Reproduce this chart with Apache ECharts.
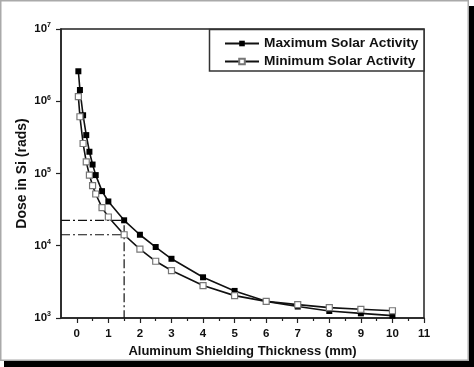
<!DOCTYPE html>
<html>
<head>
<meta charset="utf-8">
<script src="https://cdn.jsdelivr.net/npm/echarts@6/dist/echarts.min.js"></script>
<style>
html,body{margin:0;padding:0;background:#fff;}
#c{width:474px;height:367px;}
</style>
</head>
<body>
<div id="c"></div>
<script>
// Data
const thickness = [0.05, 0.1, 0.2, 0.3, 0.4, 0.5, 0.6, 0.8, 1, 1.5, 2, 2.5, 3, 4, 5, 6, 7, 8, 9, 10];
const maxDose = [2.6e6, 1.43e6, 6.4e5, 3.4e5, 2.0e5, 1.33e5, 9.5e4, 5.7e4, 4.1e4, 2.25e4, 1.42e4, 9.6e3, 6.6e3, 3.66e3, 2.37e3, 1.70e3, 1.44e3, 1.25e3, 1.16e3, 1.08e3];
const minDose = [1.16e6, 6.1e5, 2.6e5, 1.45e5, 9.5e4, 6.8e4, 5.2e4, 3.37e4, 2.5e4, 1.42e4, 8.98e3, 6.1e3, 4.54e3, 2.81e3, 2.04e3, 1.70e3, 1.53e3, 1.39e3, 1.32e3, 1.26e3];
const seriesNames = ['Maximum Solar Activity', 'Minimum Solar Activity'];
const xTicks = [0, 1, 2, 3, 4, 5, 6, 7, 8, 9, 10, 11];
const xMinorTicks = [0.5, 1.5, 2.5, 3.5, 4.5, 5.5, 6.5, 7.5, 8.5, 9.5, 10.5];
const xRange = [-0.5, 11];
const yRange = [1e3, 1e7];
const guideX = 1.5;
const guideMax = 2.25e4;
const guideMin = 1.42e4;

const FONT = '"Liberation Sans", Arial, sans-serif';
const AX = '#222';

const chart = echarts.init(document.getElementById('c'), null, {renderer: 'canvas'});
const dashDot = [9, 3, 2, 3];

chart.setOption({
  animation: false,
  backgroundColor: '#fff',
  textStyle: {fontFamily: FONT},
  graphic: [
    {type: 'rect', z: 0, shape: {x: 0.75, y: 0.75, width: 467.5, height: 359.5}, style: {fill: 'none', stroke: '#aaa', lineWidth: 1.5}},
    {type: 'rect', z: 0, shape: {x: 469, y: 6, width: 5, height: 361}, style: {fill: '#000'}},
    {type: 'rect', z: 0, shape: {x: 4, y: 361, width: 470, height: 6}, style: {fill: '#000'}},
    {type: 'rect', z: 3, shape: {x: 209.5, y: 29.5, width: 214.5, height: 41.5}, style: {fill: '#fff', stroke: '#333', lineWidth: 1.5}}
  ],
  grid: {left: 61, right: 50, top: 29, bottom: 49, show: true, z: 2, borderColor: AX, borderWidth: 1.5, backgroundColor: 'transparent'},
  legend: {
    z: 5,
    orient: 'vertical',
    left: 224, top: 36,
    padding: 0,
    itemWidth: 34, itemHeight: 7,
    itemGap: 3,
    data: seriesNames,
    textStyle: {fontFamily: FONT, fontSize: 13.7, fontWeight: 'bold', color: '#111', lineHeight: 15}
  },
  xAxis: [{
    type: 'value', min: xRange[0], max: xRange[1],
    name: 'Aluminum Shielding Thickness (mm)', nameLocation: 'middle', nameGap: 27,
    nameTextStyle: {fontFamily: FONT, fontSize: 13, fontWeight: 'bold', color: '#111'},
    axisLine: {show: true, onZero: false, lineStyle: {color: AX, width: 1.5}},
    axisTick: {show: true, length: 5, inside: false, customValues: xTicks, lineStyle: {color: AX, width: 1.2}},
    axisLabel: {customValues: xTicks, margin: 10, fontFamily: FONT, fontSize: 11.5, fontWeight: 'bold', color: '#111'},
    splitLine: {show: false}
  }, {
    type: 'value', min: xRange[0], max: xRange[1], position: 'bottom',
    axisLine: {show: false, onZero: false},
    axisTick: {show: true, length: 3, customValues: xMinorTicks, lineStyle: {color: AX, width: 1.2}},
    axisLabel: {show: false},
    splitLine: {show: false}
  }],
  yAxis: {
    type: 'log', logBase: 10, min: yRange[0], max: yRange[1],
    name: 'Dose in Si (rads)', nameLocation: 'middle', nameGap: 32, nameMoveOverlap: false,
    nameTextStyle: {fontFamily: FONT, fontSize: 14, fontWeight: 'bold', color: '#111'},
    axisLine: {show: true, onZero: false, lineStyle: {color: AX, width: 1.5}},
    axisTick: {show: true, length: 5, lineStyle: {color: AX, width: 1.2}},
    minorTick: {show: false},
    splitLine: {show: false},
    axisLabel: {
      margin: 10,
      formatter: function (v) { return '{b|10}{s|' + Math.round(Math.log10(v)) + '}'; },
      rich: {
        b: {fontFamily: FONT, fontSize: 11.5, fontWeight: 'bold', color: '#111'},
        s: {fontFamily: FONT, fontSize: 7, fontWeight: 'bold', color: '#111', padding: [0, 0, 7, 0]}
      }
    }
  },
  series: [
    {
      name: seriesNames[0], type: 'line', z: 4,
      data: thickness.map((x, i) => [x, maxDose[i]]),
      symbol: 'rect', symbolSize: 6,
      lineStyle: {color: '#111', width: 1.6},
      itemStyle: {color: '#000', borderColor: '#000', borderWidth: 0}
    },
    {
      name: seriesNames[1], type: 'line', z: 4,
      data: thickness.map((x, i) => [x, minDose[i]]),
      symbol: 'rect', symbolSize: 6,
      lineStyle: {color: '#111', width: 1.6},
      itemStyle: {color: '#fff', borderColor: '#777', borderWidth: 1.2}
    },
    {
      name: 'guideMax', type: 'line', z: 2, symbol: 'none', silent: true,
      data: [[xRange[0], guideMax], [guideX, guideMax], [guideX, yRange[0]]],
      lineStyle: {color: '#111', width: 1.2, type: dashDot}
    },
    {
      name: 'guideMin', type: 'line', z: 2, symbol: 'none', silent: true,
      data: [[xRange[0], guideMin], [guideX, guideMin]],
      lineStyle: {color: '#111', width: 1.2, type: dashDot}
    }
  ]
});
</script>
</body>
</html>
